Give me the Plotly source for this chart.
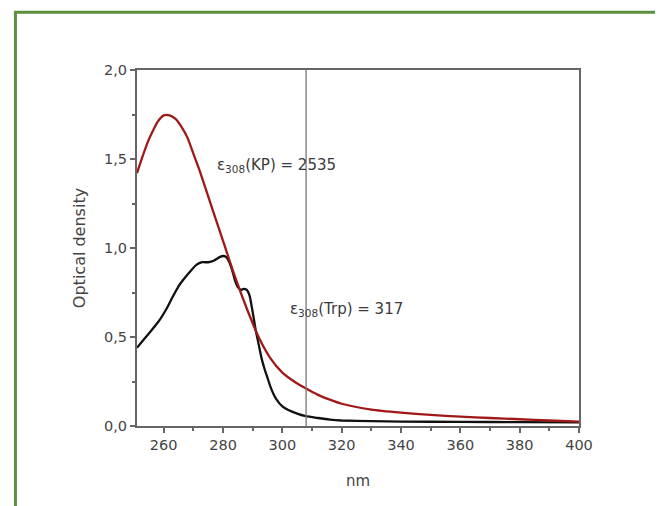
import plotly.graph_objects as go

# KP (red) absorption spectrum
kp_nm = [251, 253, 255, 257, 258, 260, 262, 264, 266, 268, 270, 272, 276, 280, 284, 288,
         292, 296, 300, 304, 308, 312, 316, 320, 330, 340, 350, 360, 370, 380, 390, 400]
kp_od = [1.42, 1.52, 1.61, 1.68, 1.71, 1.745, 1.745, 1.725, 1.68, 1.62, 1.53, 1.44, 1.24, 1.04,
         0.84, 0.66, 0.50, 0.38, 0.30, 0.25, 0.21, 0.175, 0.148, 0.125, 0.092, 0.075, 0.062,
         0.053, 0.045, 0.038, 0.031, 0.025]

# Trp (black) absorption spectrum
trp_nm = [251, 253, 255, 257, 259, 261, 263, 265, 267, 269, 271, 273, 275, 277, 279, 280, 281,
          282, 283, 284, 285, 286, 287, 288, 289, 290, 291, 292, 293, 294, 295, 296, 297, 298,
          300, 302, 305, 308, 312, 316, 320, 330, 340, 360, 380, 400]
trp_od = [0.44, 0.48, 0.52, 0.56, 0.605, 0.66, 0.725, 0.785, 0.83, 0.87, 0.905, 0.92, 0.92, 0.93,
          0.95, 0.955, 0.95, 0.925, 0.88, 0.82, 0.78, 0.765, 0.77, 0.765, 0.73, 0.64, 0.54,
          0.46, 0.38, 0.32, 0.27, 0.22, 0.18, 0.15, 0.11, 0.09, 0.07, 0.055, 0.045, 0.036,
          0.031, 0.027, 0.025, 0.023, 0.022, 0.02]

x_ticks = [260, 280, 300, 320, 340, 360, 380, 400]
y_ticks = [0.0, 0.5, 1.0, 1.5, 2.0]
y_ticklabels = ["0,0", "0,5", "1,0", "1,5", "2,0"]
marker_nm = 308
labels = [("ε<sub>308</sub>(KP) = 2535", 277.2, 1.466),
          ("ε<sub>308</sub>(Trp) = 317", 301.9, 0.652)]

FAM = "DejaVu Sans, Liberation Sans, Arial"

fig = go.Figure()
fig.add_trace(go.Scatter(x=trp_nm, y=trp_od, mode="lines",
                         line=dict(color="#111111", width=2.3, shape="spline", smoothing=0.4)))
fig.add_trace(go.Scatter(x=kp_nm, y=kp_od, mode="lines",
                         line=dict(color="#a01818", width=2.3, shape="spline", smoothing=0.6)))

fig.add_shape(type="line", xref="x", yref="y", x0=marker_nm, x1=marker_nm, y0=0, y1=2,
              line=dict(color="#777777", width=1.3))

# green frame
fig.add_shape(type="rect", xref="paper", yref="paper", x0=-0.275, x1=1.3, y0=-0.4, y1=1.162,
              line=dict(color="#5e8f3e", width=3), layer="below")

for txt, x, y in labels:
    fig.add_annotation(x=x, y=y, xref="x", yref="y", text=txt, showarrow=False,
                       xanchor="left", yanchor="middle",
                       font=dict(family=FAM, size=15, color="#3a3a3a"))

font = dict(family=FAM, size=14.5, color="#444444")
fig.update_xaxes(range=[251, 400], tickvals=x_ticks, ticks="outside", ticklen=5, tickwidth=1.5,
                 tickcolor="#666666", showline=True, linecolor="#666666", linewidth=2,
                 mirror=True, showgrid=False, zeroline=False, tickfont=font,
                 minor=dict(ticks="outside", ticklen=3, dtick=10, tick0=250, tickcolor="#666666"),
                 title=dict(text="nm", font=dict(family=FAM, size=15, color="#444444"),
                            standoff=23))
fig.update_yaxes(range=[0, 2], tickvals=y_ticks, ticktext=y_ticklabels, ticks="outside",
                 ticklen=5, tickwidth=1.5, tickcolor="#666666", showline=True,
                 linecolor="#666666", linewidth=2, mirror=True, showgrid=False, zeroline=False,
                 tickfont=font,
                 minor=dict(ticks="outside", ticklen=3, dtick=0.25, tick0=0, tickcolor="#666666"),
                 title=dict(text="Optical density", font=dict(family=FAM, size=16,
                                                              color="#444444"),
                            standoff=14))
fig.update_layout(width=663, height=506, margin=dict(l=129, r=92, t=62, b=88),
                  paper_bgcolor="white", plot_bgcolor="white", showlegend=False)
fig.write_html("out.html")
